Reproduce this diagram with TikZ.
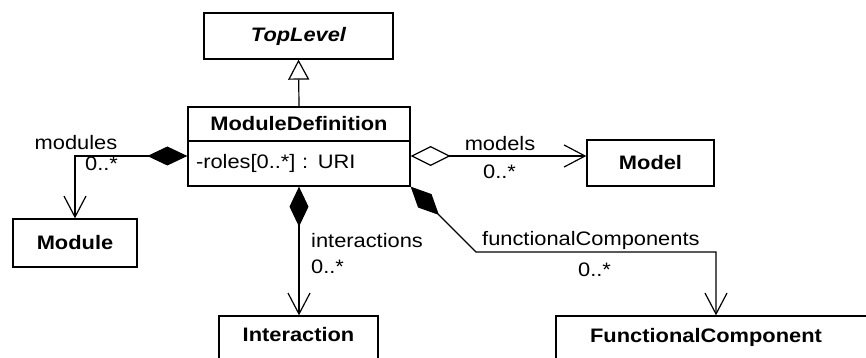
\documentclass[tikz,border=0pt]{standalone}
\usepackage{fontspec}
\setmainfont[FakeStretch=1.12]{Liberation Sans}
\usetikzlibrary{arrows.meta}
\newcommand{\umlsize}{\fontsize{19.5}{22}\selectfont}
\tikzset{
  classbox/.style={draw, line width=1.3pt, inner sep=0pt, font=\umlsize\bfseries},
  lbl/.style={inner sep=0pt, font=\umlsize},
  gen/.style={line width=1.2pt, -{Triangle[open, length=20pt, width=21pt, fill=white]}},
  comp/.style={line width=1.2pt, {Diamond[length=40pt, width=19pt]}-{Straight Barb[length=21pt, width=22pt]}},
  agg/.style={line width=1.2pt, {Diamond[open, length=40pt, width=20pt]}-{Straight Barb[length=21pt, width=22pt]}}
}
\begin{document}
\begin{tikzpicture}[x=1pt, y=-1pt]
        \useasboundingbox (0,0) rectangle (866,358);
        % Classes
        \node[classbox, font=\umlsize\bfseries\itshape, minimum width=189pt, minimum height=46pt] (top) at (298.5,36) {TopLevel};
        \node[classbox, minimum width=222pt, minimum height=34pt] (mdhead) at (299,124) {ModuleDefinition};
        \node[classbox, font=\umlsize\mdseries, minimum width=222pt, minimum height=45pt, text width=206pt, align=left] (mdbody) at (299,163.5) {-roles[0..*] : URI};
        \node[classbox, minimum width=124pt, minimum height=48pt] (mod) at (75,243) {Module};
        \node[classbox, minimum width=127pt, minimum height=46pt] (model) at (650.5,163) {Model};
        \node[classbox, minimum width=159pt, minimum height=46pt] (inter) at (298.5,339) {};
        \node[lbl, font=\umlsize\bfseries] (intername) at (298.5,335) {Interaction};
        \node[classbox, minimum width=320pt, minimum height=46pt] (fc) at (716,339) {};
        \node[lbl, font=\umlsize\bfseries] (fcname) at (706,337) {FunctionalComponent};

        % Generalization
        \draw[gen] (mdhead.north) -- (top.south);
        % modules
        \draw[comp] ([yshift=7.5pt]mdbody.west) -| (mod.north);
        \node[lbl] (modlbl) at (76,143) {modules};
        \node[lbl, anchor=west] (modmult) at (85,164) {0..*};
        % models
        \draw[agg] ([yshift=7.5pt]mdbody.east) -- ([yshift=7.5pt]mdbody.east -| model.west);
        \node[lbl] (modelslbl) at (500,144) {models};
        \node[lbl, anchor=west] (modelsmult) at (483,172) {0..*};
        % interactions
        \draw[comp] (mdbody.south) -- (mdbody.south |- inter.north);
        \node[lbl, anchor=west] (interlbl) at (311,241) {interactions};
        \node[lbl, anchor=west] (intermult) at (311,267) {0..*};
        % functionalComponents
        \coordinate (fcbend) at (476,252);
        \draw[comp] (mdbody.south east) -- (fcbend) -| (fc.north);
        \node[lbl, anchor=west] (fclbl) at (482,240) {functionalComponents};
        \node[lbl, anchor=west] (fcmult) at (578,270) {0..*};
      \end{tikzpicture}
\end{document}
